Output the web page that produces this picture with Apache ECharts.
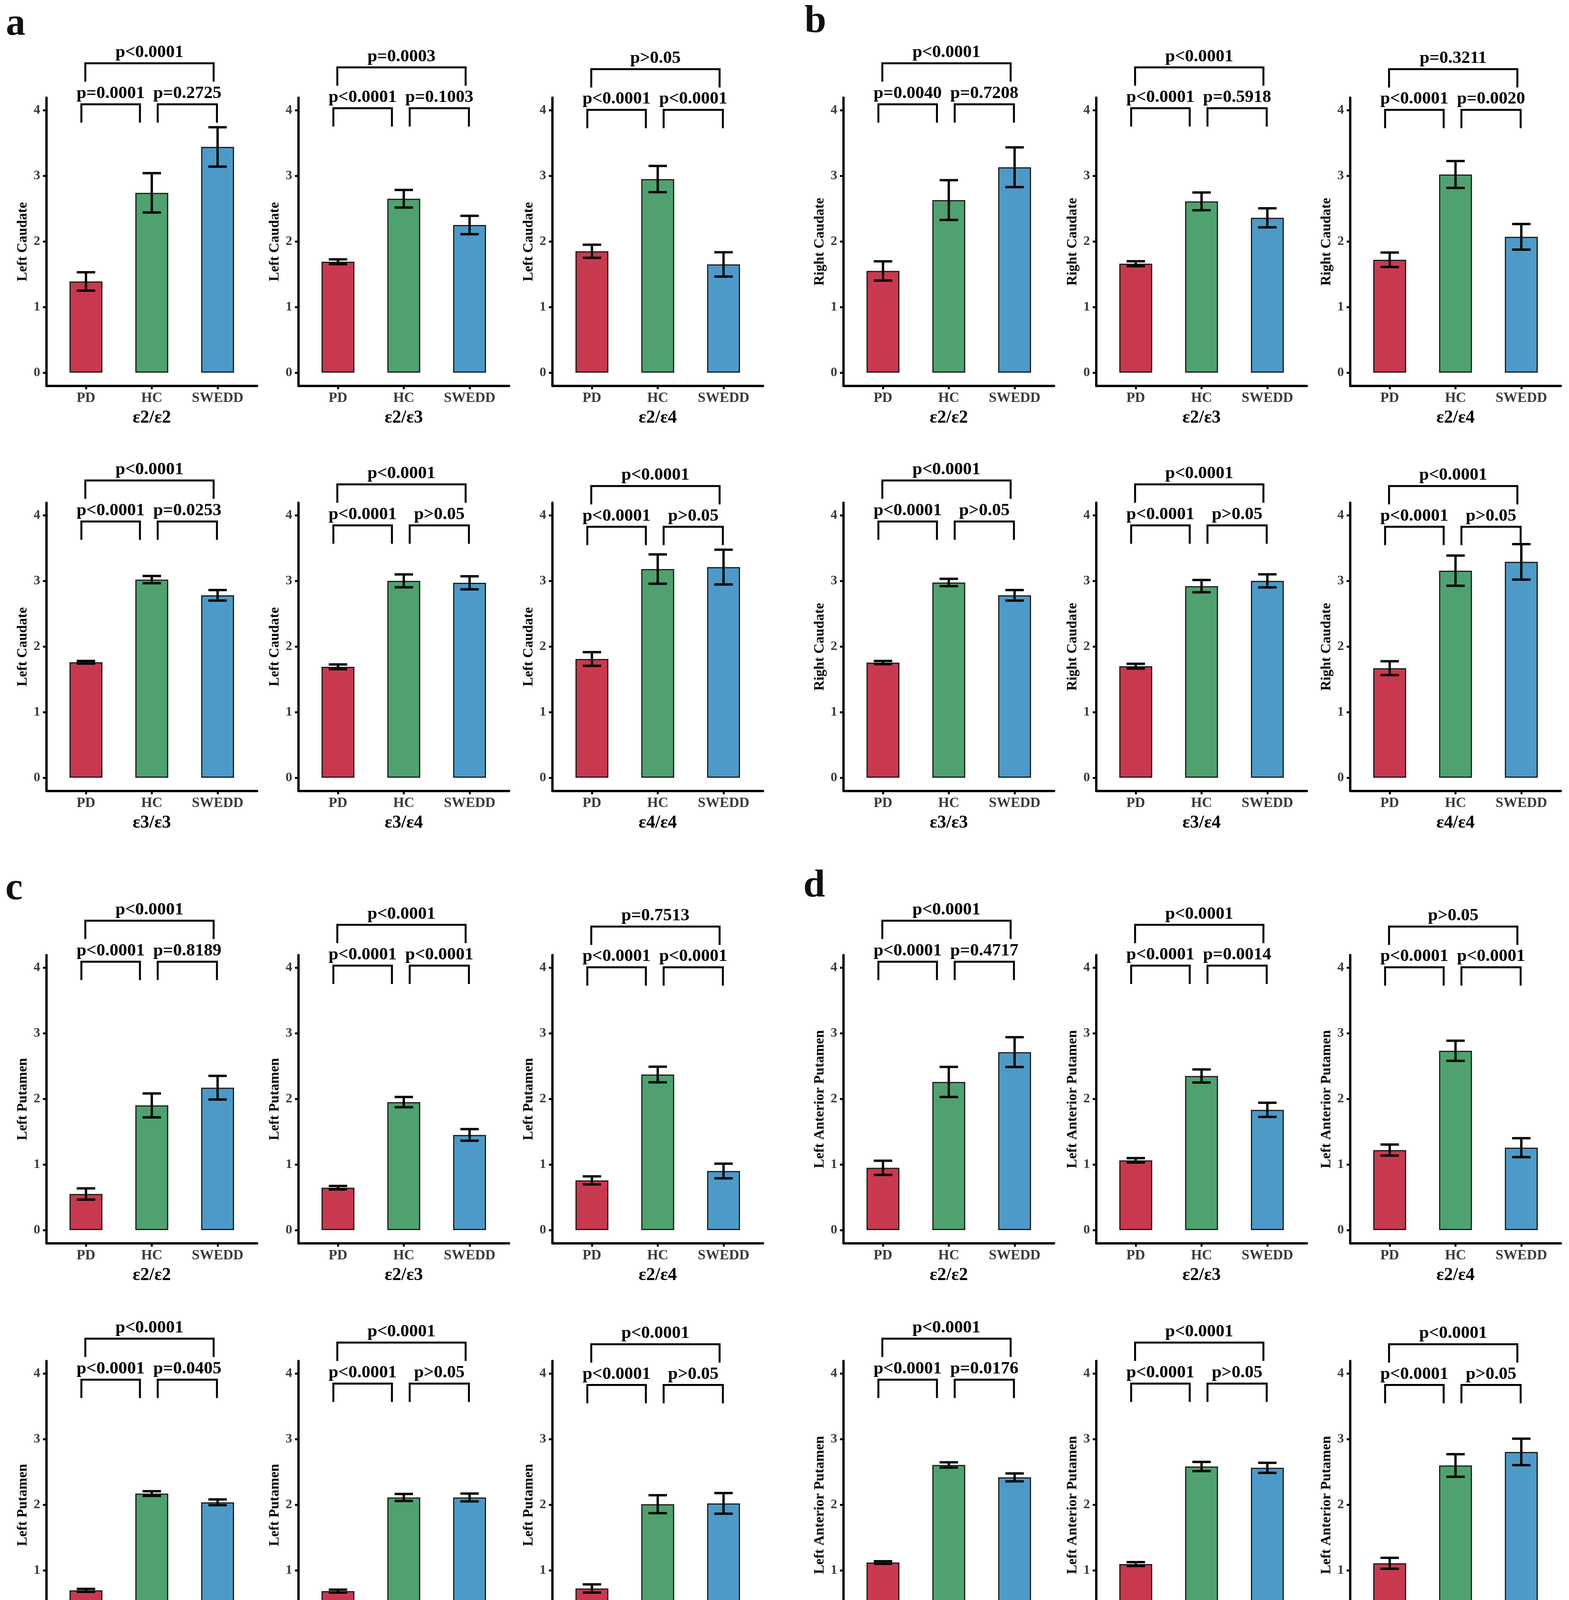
<!DOCTYPE html>
<html>
<head>
<meta charset="utf-8">
<title>Striatal binding by APOE genotype</title>
<script src="https://cdn.jsdelivr.net/npm/echarts@6/dist/echarts.min.js"></script>
<style>
  html, body { margin: 0; padding: 0; background: #fff; }
  #main { width: 4016px; height: 4347px; }
</style>
</head>
<body>
<div id="main"></div>
<script>
// ---- data ----
var categories = ['PD', 'HC', 'SWEDD'];
var genotypes = ['ε2/ε2', 'ε2/ε3', 'ε2/ε4', 'ε3/ε3', 'ε3/ε4', 'ε4/ε4'];
var yTicks = [0, 1, 2, 3, 4];
var measures = ['Left Caudate', 'Right Caudate', 'Left Putamen', 'Left Anterior Putamen'];
var panelLetters = ['a', 'b', 'c', 'd'];

// means and standard errors, one row per genotype: [PD, HC, SWEDD]
var leftCaudateMean = [[1.39, 2.74, 3.44], [1.69, 2.65, 2.25], [1.85, 2.95, 1.65],
                       [1.76, 3.02, 2.78], [1.69, 3.00, 2.97], [1.81, 3.18, 3.21]];
var leftCaudateSE   = [[0.14, 0.30, 0.30], [0.036, 0.134, 0.14], [0.10, 0.20, 0.185],
                       [0.02, 0.055, 0.08], [0.036, 0.098, 0.10], [0.104, 0.223, 0.265]];
var rightCaudateMean = [[1.55, 2.63, 3.13], [1.66, 2.61, 2.36], [1.72, 3.02, 2.07],
                        [1.755, 2.975, 2.78], [1.70, 2.92, 3.00], [1.67, 3.155, 3.29]];
var rightCaudateSE   = [[0.147, 0.303, 0.303], [0.038, 0.135, 0.145], [0.11, 0.205, 0.195],
                        [0.025, 0.056, 0.08], [0.036, 0.094, 0.10], [0.106, 0.23, 0.27]];
var leftPutamenMean = [[0.55, 1.90, 2.17], [0.646, 1.95, 1.45], [0.757, 2.37, 0.90],
                       [0.695, 2.17, 2.036], [0.683, 2.11, 2.11], [0.723, 2.008, 2.02]];
var leftPutamenSE   = [[0.086, 0.182, 0.18], [0.027, 0.078, 0.088], [0.061, 0.119, 0.112],
                       [0.022, 0.036, 0.044], [0.022, 0.053, 0.06], [0.063, 0.137, 0.157]];
var leftAntPutamenMean = [[0.949, 2.258, 2.712], [1.063, 2.348, 1.832], [1.219, 2.732, 1.256],
                          [1.119, 2.606, 2.416], [1.095, 2.582, 2.562], [1.107, 2.598, 2.804]];
var leftAntPutamenSE   = [[0.108, 0.229, 0.227], [0.033, 0.10, 0.108], [0.084, 0.153, 0.145],
                          [0.02, 0.04, 0.06], [0.03, 0.07, 0.077], [0.083, 0.172, 0.202]];

// p labels per genotype: [PD vs HC, HC vs SWEDD, PD vs SWEDD]
var leftCaudateP = [['p=0.0001', 'p=0.2725', 'p<0.0001'], ['p<0.0001', 'p=0.1003', 'p=0.0003'],
                    ['p<0.0001', 'p<0.0001', 'p>0.05'], ['p<0.0001', 'p=0.0253', 'p<0.0001'],
                    ['p<0.0001', 'p>0.05', 'p<0.0001'], ['p<0.0001', 'p>0.05', 'p<0.0001']];
var rightCaudateP = [['p=0.0040', 'p=0.7208', 'p<0.0001'], ['p<0.0001', 'p=0.5918', 'p<0.0001'],
                     ['p<0.0001', 'p=0.0020', 'p=0.3211'], ['p<0.0001', 'p>0.05', 'p<0.0001'],
                     ['p<0.0001', 'p>0.05', 'p<0.0001'], ['p<0.0001', 'p>0.05', 'p<0.0001']];
var leftPutamenP = [['p<0.0001', 'p=0.8189', 'p<0.0001'], ['p<0.0001', 'p<0.0001', 'p<0.0001'],
                    ['p<0.0001', 'p<0.0001', 'p=0.7513'], ['p<0.0001', 'p=0.0405', 'p<0.0001'],
                    ['p<0.0001', 'p>0.05', 'p<0.0001'], ['p<0.0001', 'p>0.05', 'p<0.0001']];
var leftAntPutamenP = [['p<0.0001', 'p=0.4717', 'p<0.0001'], ['p<0.0001', 'p=0.0014', 'p<0.0001'],
                       ['p<0.0001', 'p<0.0001', 'p>0.05'], ['p<0.0001', 'p=0.0176', 'p<0.0001'],
                       ['p<0.0001', 'p>0.05', 'p<0.0001'], ['p<0.0001', 'p>0.05', 'p<0.0001']];

// bracket heights (data units) per genotype: low pair brackets and the wide one
var bracketLow  = [4.09, 4.03, 4.005, 3.905, 3.845, 3.825];
var bracketHigh = [4.715, 4.652, 4.625, 4.53, 4.47, 4.445];

var allMeans = [leftCaudateMean, rightCaudateMean, leftPutamenMean, leftAntPutamenMean];
var allSE = [leftCaudateSE, rightCaudateSE, leftPutamenSE, leftAntPutamenSE];
var allP = [leftCaudateP, rightCaudateP, leftPutamenP, leftAntPutamenP];

// ---- layout ----
var barColors = ['#C8394F', '#4FA26F', '#4D9AC8'];
var serif = '"Liberation Serif", "Times New Roman", serif';
var colX = [119, 764, 1414, 2159, 2806, 3456];
var rowZero = [954, 1991, 3149, 4188];
var U = 168;          // px per y unit
var W = 539;          // grid width
var yMin = -0.2, yMax = 4.19;
var legLen = 0.28;

var chart = echarts.init(document.getElementById('main'), null, {renderer: 'canvas'});

var option = {
  animation: false,
  backgroundColor: '#fff',
  grid: [], xAxis: [], yAxis: [], series: [], graphic: []
};

function bracketRenderer(list) {
  return function (params, api) {
    var b = list[params.dataIndex];
    var p1 = api.coord([b.x1, b.y - legLen]);
    var p2 = api.coord([b.x1, b.y]);
    var p3 = api.coord([b.x2, b.y]);
    var p4 = api.coord([b.x2, b.y - legLen]);
    var mid = api.coord([(b.x1 + b.x2) / 2, b.y]);
    return {
      type: 'group',
      children: [
        {type: 'polyline', shape: {points: [p1, p2, p3, p4]},
         style: {stroke: '#000', lineWidth: 5, fill: null}},
        {type: 'text', x: mid[0], y: mid[1] - 5,
         style: {text: b.label, align: 'center', verticalAlign: 'bottom',
                 fontSize: 45, fontWeight: 'bold', fontFamily: serif, fill: '#000'}}
      ]
    };
  };
}

function errRenderer(params, api) {
  var x = api.value(0), m = api.value(1), e = api.value(2);
  var top = api.coord([x, m + e]), bot = api.coord([x, m - e]);
  var tl = api.coord([x - 0.14, m + e]), tr = api.coord([x + 0.14, m + e]);
  var bl = api.coord([x - 0.14, m - e]), br = api.coord([x + 0.14, m - e]);
  var st = {stroke: '#000', lineWidth: 6};
  return {
    type: 'group',
    children: [
      {type: 'line', shape: {x1: top[0], y1: top[1], x2: bot[0], y2: bot[1]}, style: st},
      {type: 'line', shape: {x1: tl[0], y1: tl[1], x2: tr[0], y2: tr[1]}, style: st},
      {type: 'line', shape: {x1: bl[0], y1: bl[1], x2: br[0], y2: br[1]}, style: st}
    ]
  };
}

var idx = 0;
for (var m = 0; m < 4; m++) {
  for (var g = 0; g < 6; g++) {
    var row = (m >= 2 ? 2 : 0) + (g < 3 ? 0 : 1);
    var col = (m % 2 === 1 ? 3 : 0) + (g % 3);
    var zero = rowZero[row];

    option.grid.push({
      left: colX[col], top: zero - yMax * U, width: W, height: (yMax - yMin) * U,
      containLabel: false, outerBoundsMode: 'none'
    });

    option.xAxis.push({
      gridIndex: idx, type: 'value', min: 0.4, max: 3.6,
      name: genotypes[g], nameLocation: 'middle', nameGap: 60,
      nameTextStyle: {fontSize: 46, fontWeight: 'bold', fontFamily: serif, color: '#000'},
      axisLine: {show: true, onZero: false, lineStyle: {color: '#000', width: 6}},
      axisTick: {show: true, customValues: [1, 2, 3], length: 9, lineStyle: {color: '#000', width: 5}},
      axisLabel: {show: true, customValues: [1, 2, 3], margin: 14,
                  formatter: function (v) { return categories[Math.round(v) - 1]; },
                  fontSize: 36, fontWeight: 'bold', fontFamily: serif, color: '#3a3a3a'},
      splitLine: {show: false}
    });

    option.yAxis.push({
      gridIndex: idx, type: 'value', min: yMin, max: yMax,
      name: measures[m], nameLocation: 'middle', nameGap: 42,
      nameTextStyle: {fontSize: 36, fontWeight: 'bold', fontFamily: serif, color: '#000'},
      axisLine: {show: true, onZero: false, lineStyle: {color: '#000', width: 6}},
      axisTick: {show: true, customValues: yTicks, length: 9, lineStyle: {color: '#000', width: 5}},
      axisLabel: {show: true, customValues: yTicks, margin: 16,
                  fontSize: 34, fontWeight: 'bold', fontFamily: serif, color: '#3a3a3a'},
      splitLine: {show: false}
    });

    var means = allMeans[m][g], se = allSE[m][g], p = allP[m][g];

    option.series.push({
      type: 'bar', xAxisIndex: idx, yAxisIndex: idx,
      barWidth: 0.5 * W / 3.2,
      data: means.map(function (v, i) {
        return {value: [i + 1, v], itemStyle: {color: barColors[i]}};
      }),
      itemStyle: {borderColor: '#1a1a1a', borderWidth: 3},
      silent: true
    });

    option.series.push({
      type: 'custom', xAxisIndex: idx, yAxisIndex: idx, z: 5,
      data: means.map(function (v, i) { return [i + 1, v, se[i]]; }),
      renderItem: errRenderer, silent: true
    });

    var brackets = [
      {x1: 0.93, x2: 1.82, y: bracketLow[g], label: p[0]},
      {x1: 2.09, x2: 2.99, y: bracketLow[g], label: p[1]},
      {x1: 0.99, x2: 2.94, y: bracketHigh[g], label: p[2]}
    ];
    option.series.push({
      type: 'custom', xAxisIndex: idx, yAxisIndex: idx, z: 5, clip: false,
      data: brackets.map(function (b) { return [b.x1, b.y]; }),
      renderItem: bracketRenderer(brackets), silent: true
    });

    idx++;
  }
}

// panel letters
var letterPos = [[40, 63], [2087, 56], [36, 2276], [2084, 2269]];
panelLetters.forEach(function (t, i) {
  option.graphic.push({
    type: 'text', x: letterPos[i][0], y: letterPos[i][1],
    style: {text: t, align: 'center', verticalAlign: 'middle',
            fontSize: 100, fontWeight: 'bold', fontFamily: serif, fill: '#111'}
  });
});

chart.setOption(option);
</script>
</body>
</html>
